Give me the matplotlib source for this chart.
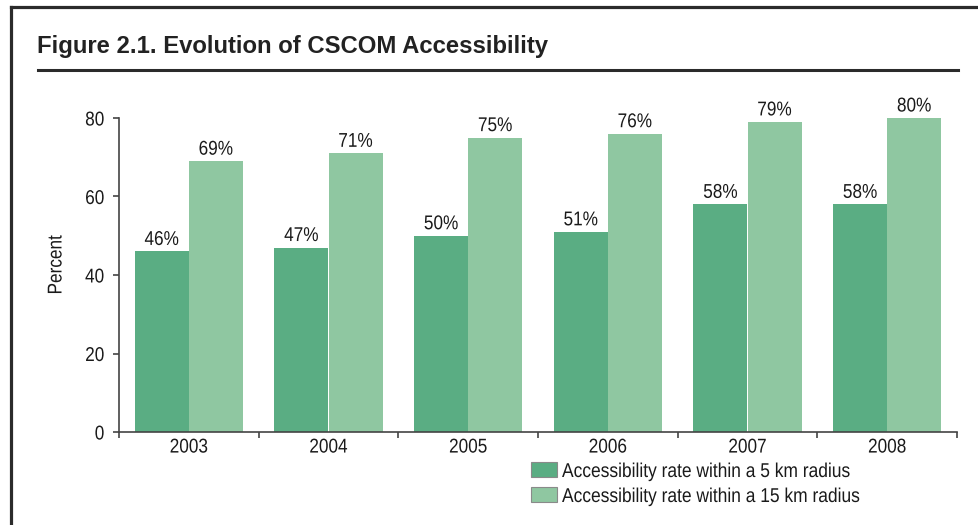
import matplotlib
matplotlib.use("Agg")
import matplotlib.pyplot as plt
from matplotlib.lines import Line2D
from matplotlib.patches import Rectangle
from matplotlib.patheffects import AbstractPathEffect
from matplotlib.transforms import Affine2D
import numpy as np

years = ["2003", "2004", "2005", "2006", "2007", "2008"]
rate_5km = [46, 47, 50, 51, 58, 58]
rate_15km = [69, 71, 75, 76, 79, 80]
series_names = ["Accessibility rate within a 5 km radius",
                "Accessibility rate within a 15 km radius"]
yticks = [0, 20, 40, 60, 80]

DARK = "#5aad83"
LIGHT = "#8fc7a1"
INK = "#1a1a1a"
AXIS = "#444444"
SANS = ["Liberation Sans", "DejaVu Sans"]
FS = 14.4


class Condensed(AbstractPathEffect):
    """Squeeze glyph outlines horizontally to imitate a narrow typeface."""

    def __init__(self, sx=0.86, anchor="center"):
        super().__init__()
        self._sx = sx
        self._anchor = anchor

    def draw_path(self, renderer, gc, tpath, affine, rgbFace=None):
        ext = tpath.get_extents()
        pivot = {"left": ext.x0, "center": 0.5 * (ext.x0 + ext.x1),
                 "right": ext.x1}[self._anchor]
        squeeze = Affine2D().translate(-pivot, 0).scale(self._sx, 1).translate(pivot, 0)
        renderer.draw_path(gc, tpath, squeeze + affine, rgbFace)


def narrow(anchor, sx=0.86):
    return [Condensed(sx, anchor)]


W, H = 979, 525
fig = plt.figure(figsize=(W / 100, H / 100), dpi=100)


def fx(x):
    return x / W


def fy(y):
    return 1 - y / H


# page frame (left and top edges) and the rule under the title
fig.add_artist(Line2D([fx(10.5), fx(10.5)], [0, fy(7)], color="#2b2b2b", lw=2.3))
fig.add_artist(Line2D([fx(10.5), 1], [fy(7), fy(7)], color="#2b2b2b", lw=2.3))
fig.add_artist(Line2D([fx(38), fx(958)], [fy(69.5), fy(69.5)], color="#2b2b2b", lw=2.2))

fig.text(fx(37), fy(53), "Figure 2.1. Evolution of CSCOM Accessibility",
         fontsize=17.2, fontweight="bold", color="#222222", va="baseline",
         ha="left", family=SANS)

ax_l, ax_r, ax_t, ax_b = 119, 957, 118, 432
ax = fig.add_axes([fx(ax_l), fy(ax_b), (ax_r - ax_l) / W, (ax_b - ax_t) / H])

x = np.arange(len(years))
bw = 0.387
b1 = ax.bar(x - bw / 2, rate_5km, bw, color=DARK, linewidth=0)
b2 = ax.bar(x + bw / 2, rate_15km, bw, color=LIGHT, linewidth=0)

for bars, vals in ((b1, rate_5km), (b2, rate_15km)):
    for rect, v in zip(bars, vals):
        ax.annotate(f"{v}%", (rect.get_x() + rect.get_width() / 2, v),
                    xytext=(0, 1.8), textcoords="offset points",
                    ha="center", va="bottom", fontsize=FS, color=INK,
                    family=SANS, path_effects=narrow("center"))

ax.set_xlim(-0.5, len(years) - 0.5)
ax.set_ylim(0, 80)
ax.set_yticks(yticks)
ax.set_yticklabels([str(t) for t in yticks], family=SANS, fontsize=FS, color=INK)
ax.set_xticks(np.arange(-0.5, len(years)), minor=False)
ax.set_xticklabels([])
ax.set_xticks(x, minor=True)
ax.set_xticklabels(years, minor=True, family=SANS, fontsize=FS, color=INK)
ax.tick_params(axis="x", which="major", direction="out", length=4, width=1.2, color=AXIS)
ax.tick_params(axis="x", which="minor", length=0, pad=4)
ax.tick_params(axis="y", direction="out", length=4.5, width=1.2, color=AXIS, pad=6)

for t in ax.xaxis.get_minor_ticks():
    t.label1.set_path_effects(narrow("center"))
for t in ax.yaxis.get_major_ticks():
    t.label1.set_path_effects(narrow("right"))

for s in ("top", "right"):
    ax.spines[s].set_visible(False)
for s in ("left", "bottom"):
    ax.spines[s].set_color(AXIS)
    ax.spines[s].set_linewidth(1.2)

fig.text(fx(56), fy(265), "Percent", rotation=90, ha="center", va="center",
         fontsize=FS, color=INK, family=SANS, path_effects=narrow("center"))

# legend, laid out as swatch + label rows
for i, (name, col) in enumerate(zip(series_names, (DARK, LIGHT))):
    top = 462 + 25 * i
    fig.add_artist(Rectangle((fx(531), fy(top + 15)), 26 / W, 15 / H,
                             facecolor=col, edgecolor="#8a8a8a", lw=0.8,
                             transform=fig.transFigure))
    fig.text(fx(562), fy(top + 7.5), name, ha="left", va="center_baseline",
             fontsize=FS, color=INK, family=SANS, path_effects=narrow("left", 0.87))

fig.savefig("out.png", dpi=100, facecolor="white")
